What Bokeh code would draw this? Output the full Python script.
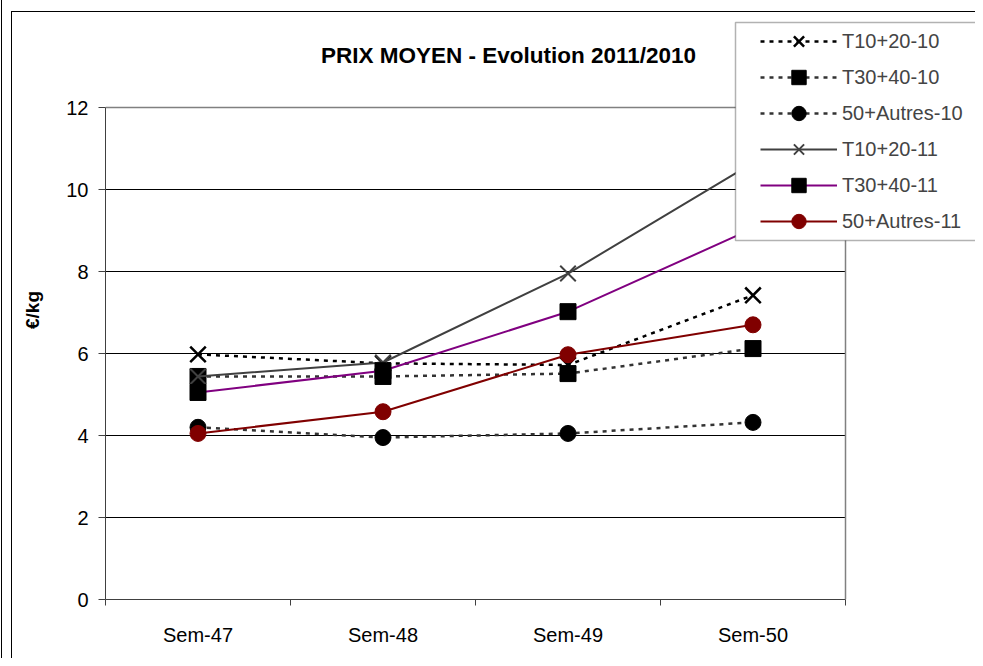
from bokeh.plotting import figure
from bokeh.models import (Range1d, FixedTicker, Legend, LegendItem, Label, BoxAnnotation)
from bokeh.embed import file_html
from bokeh.resources import INLINE

categories = ["Sem-47", "Sem-48", "Sem-49", "Sem-50"]
t1020_10 = [5.98, 5.76, 5.72, 7.42]
t3040_10 = [5.44, 5.44, 5.51, 6.12]
autres_10 = [4.20, 3.95, 4.05, 4.32]
t1020_11 = [5.44, 5.78, 7.95, 10.65]
t3040_11 = [5.05, 5.58, 7.02, 9.05]
autres_11 = [4.05, 4.58, 5.97, 6.70]
y_ticks = [0, 2, 4, 6, 8, 10, 12]

FONT = "Liberation Sans"
n = len(categories)
xs = [i + 0.5 for i in range(n)]
y_max = y_ticks[-1]

# layout (pixels)
W, H = 975, 658
PL, PR, PT, PB = 105, 845, 107, 599   # plot area
FT = 20                                # frame top (room for legend/title)
px_x = (PR - PL) / n
px_y = (PB - PT) / y_max

p = figure(width=W, height=H, output_backend="svg", toolbar_location=None,
           x_range=Range1d(0, (W - PL) / px_x), y_range=Range1d(0, (PB - FT) / px_y),
           min_border_left=PL, min_border_right=0, min_border_top=FT,
           min_border_bottom=H - PB)
p.background_fill_color = "white"
p.border_fill_alpha = 0
p.outline_line_color = None
p.styles = {
    "background": "linear-gradient(#000,#000) 1px 0px / 1px 100% no-repeat, "
                  "linear-gradient(#000,#000) 11px 11px / 1px 100% no-repeat, "
                  "linear-gradient(#000,#000) 11px 11px / 100% 1px no-repeat, #fff"
}

# axes
p.xaxis.bounds = (0, n)
p.xaxis.ticker = FixedTicker(ticks=xs, minor_ticks=list(range(n + 1)))
p.xaxis.major_label_overrides = {x: c for x, c in zip(xs, categories)}
p.xaxis.major_tick_out = 0
p.xaxis.major_tick_in = 0
p.xaxis.minor_tick_out = 6
p.xaxis.minor_tick_in = 0
p.xaxis.minor_tick_line_color = "#404040"
p.xaxis.axis_line_color = "#404040"
p.xaxis.major_label_standoff = 18
p.xaxis.major_label_text_font = FONT
p.xaxis.major_label_text_font_size = "20px"
p.xaxis.major_label_text_color = "black"

p.yaxis.bounds = (0, y_max)
p.yaxis.ticker = FixedTicker(ticks=y_ticks, minor_ticks=[])
p.yaxis.major_tick_out = 7
p.yaxis.major_tick_in = 0
p.yaxis.minor_tick_out = 0
p.yaxis.major_tick_line_color = "#404040"
p.yaxis.axis_line_color = "#404040"
p.yaxis.major_label_standoff = 10
p.yaxis.major_label_text_font = FONT
p.yaxis.major_label_text_font_size = "20px"
p.yaxis.major_label_text_color = "black"
p.yaxis.axis_label = "€/kg"
p.yaxis.axis_label_text_font = FONT
p.yaxis.axis_label_text_font_size = "19px"
p.yaxis.axis_label_text_font_style = "bold"
p.yaxis.axis_label_text_color = "black"
p.yaxis.axis_label_standoff = 20

p.xgrid.visible = False
p.ygrid.visible = False

# gridlines and plot-area outline
inner = y_ticks[1:-1]
p.segment(x0=[0] * len(inner), x1=[n] * len(inner), y0=inner, y1=inner,
          line_color="black", line_width=1)
p.line([0, n, n], [y_max, y_max, 0], line_color="#808080", line_width=1.5)

# series
DASH = "4 5"
r1 = p.line(xs, t1020_10, line_color="black", line_width=2.5, line_dash=DASH)
m1 = p.scatter(xs, t1020_10, marker="x", size=22, line_color="black", line_width=2.5)
r2 = p.line(xs, t3040_10, line_color="#333333", line_width=2.5, line_dash=DASH)
m2 = p.scatter(xs, t3040_10, marker="square", size=16, fill_color="black", line_color="black")
r3 = p.line(xs, autres_10, line_color="#333333", line_width=2.5, line_dash=DASH)
m3 = p.scatter(xs, autres_10, marker="circle", size=16, fill_color="black", line_color="black")
r4 = p.line(xs, t1020_11, line_color="#404040", line_width=2)
m4 = p.scatter(xs, t1020_11, marker="x", size=22, line_color="#404040", line_width=2)
r5 = p.line(xs, t3040_11, line_color="#800080", line_width=2)
m5 = p.scatter(xs, t3040_11, marker="square", size=16, fill_color="black", line_color="black")
r6 = p.line(xs, autres_11, line_color="#800000", line_width=2)
m6 = p.scatter(xs, autres_11, marker="circle", size=16, fill_color="#800000", line_color="#800000")

def sx(v):
    return v - PL
def sy(v):
    return PB - v

# legend box
p.add_layout(BoxAnnotation(left=sx(735), right=sx(990), top=sy(22), bottom=sy(240),
                           left_units="screen", right_units="screen",
                           top_units="screen", bottom_units="screen",
                           fill_color="white", fill_alpha=1, line_color="black",
                           line_width=1.5))

items = [
    LegendItem(label="T10+20-10", renderers=[r1, m1]),
    LegendItem(label="T30+40-10", renderers=[r2, m2]),
    LegendItem(label="50+Autres-10", renderers=[r3, m3]),
    LegendItem(label="T10+20-11", renderers=[r4, m4]),
    LegendItem(label="T30+40-11", renderers=[r5, m5]),
    LegendItem(label="50+Autres-11", renderers=[r6, m6]),
]
legend = Legend(items=items, location=(sx(760), sy(239)), padding=0, margin=0,
                spacing=0, glyph_width=77, glyph_height=36, label_standoff=5,
                label_text_font=FONT, label_text_font_size="20px",
                label_height=36, border_line_alpha=0, background_fill_alpha=0)
p.add_layout(legend, "center")

# title
p.add_layout(Label(x=sx(508), y=sy(55), x_units="screen", y_units="screen",
                   text="PRIX MOYEN - Evolution 2011/2010", text_font=FONT,
                   text_font_size="22.5px", text_font_style="bold", text_color="black",
                   text_align="center", text_baseline="middle"))

open("out.html", "w").write(file_html(p, INLINE))
